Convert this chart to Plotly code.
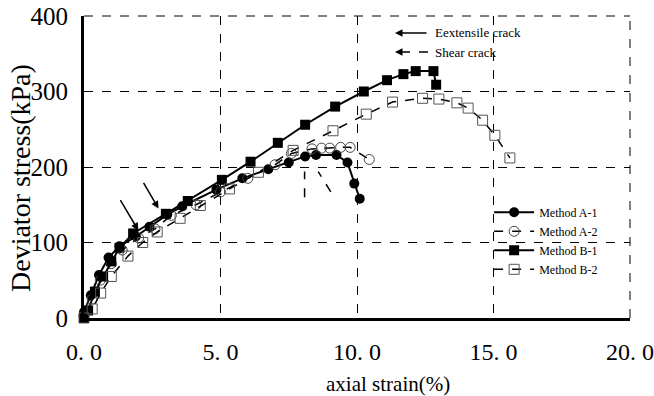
import plotly.graph_objects as go

# ---- data ----
a1_x = [0.0, 0.25, 0.55, 0.9, 1.3, 1.9, 2.4, 3.05, 3.6, 4.85, 5.8, 6.75, 7.5, 8.1, 8.5, 9.25, 9.65, 9.9, 10.1]
a1_y = [8, 30, 57, 80, 95, 108, 121, 137, 148, 170, 185, 197, 206, 214, 216, 216, 206, 178, 158]

a2_x = [0.0, 0.3, 0.6, 1.0, 1.4, 2.0, 2.6, 3.2, 4.1, 5.0, 6.0, 7.0, 7.6, 8.35, 8.7, 9.0, 9.4, 9.75, 10.45]
a2_y = [3, 25, 50, 72, 90, 106, 118, 136, 150, 167, 185, 203, 218, 224, 225, 225, 226, 226, 210]

b1_x = [0.0, 0.15, 0.4, 0.7, 1.0, 1.3, 1.8, 3.0, 3.8, 5.05, 6.1, 7.1, 8.1, 9.2, 10.25, 11.1, 11.7, 12.15, 12.8, 12.9]
b1_y = [0, 10, 35, 55, 75, 93, 112, 138, 155, 183, 207, 232, 256, 280, 300, 315, 323, 327, 327, 309]

b2_x = [0.0, 0.3, 0.61, 1.0, 1.61, 2.15, 2.68, 3.52, 4.26, 5.33, 6.39, 7.66, 9.12, 10.34, 11.3, 12.4, 13.0, 13.66, 14.07, 14.6, 15.05, 15.6]
b2_y = [0, 12, 33, 55, 82, 100, 114, 132, 149, 171, 193, 222, 248, 270, 286, 291, 290, 285, 278, 262, 242, 212]

x_ticks = [0, 5, 10, 15, 20]
x_ticklabels = ["0. 0", "5. 0", "10. 0", "15. 0", "20. 0"]
y_ticks = [0, 100, 200, 300, 400]
y_ticklabels = ["0", "100", "200", "300", "400"]

# extensile crack arrows (tail -> head) and shear crack dashed marks
ext_tail_x = [1.30, 2.15]
ext_tail_y = [158, 181]
ext_head_x = [1.99, 2.73]
ext_head_y = [116, 145]
shear_tail_x = [8.08, 9.04]
shear_tail_y = [160, 167]
shear_head_x = [8.08, 8.58]
shear_head_y = [194, 194]

SERIF = "Liberation Serif, Times New Roman, serif"

L, R, T, B = 84, 24, 16, 78
PW, PH = 654 - L - R, 396 - T - B


def px(xp):
    return (xp - L) / PW


def py(yp):
    return (396 - B - yp) / PH


fig = go.Figure()
fig.add_trace(go.Scatter(x=a1_x, y=a1_y, name="Method A-1", mode="lines+markers",
                         line=dict(color="black", width=2),
                         marker=dict(symbol="circle", size=10, color="black"), cliponaxis=False))
fig.add_trace(go.Scatter(x=a2_x, y=a2_y, name="Method A-2", mode="lines+markers",
                         line=dict(color="black", width=1.5, dash="dash"),
                         marker=dict(symbol="circle-open", size=10, color="#444", line=dict(width=1)),
                         cliponaxis=False))
fig.add_trace(go.Scatter(x=b1_x, y=b1_y, name="Method B-1", mode="lines+markers",
                         line=dict(color="black", width=2),
                         marker=dict(symbol="square", size=10, color="black"), cliponaxis=False))
fig.add_trace(go.Scatter(x=b2_x, y=b2_y, name="Method B-2", mode="lines+markers",
                         line=dict(color="black", width=1.5, dash="dash"),
                         marker=dict(symbol="square-open", size=10, color="#555", line=dict(width=1)),
                         cliponaxis=False))

# extensile crack arrows
for tx, ty, hx, hy in zip(ext_tail_x, ext_tail_y, ext_head_x, ext_head_y):
    fig.add_annotation(x=hx, y=hy, ax=tx, ay=ty, xref="x", yref="y", axref="x", ayref="y",
                       showarrow=True, arrowhead=2, arrowsize=1, arrowwidth=1.5,
                       arrowcolor="black", text="")
# shear crack dashed marks
for tx, ty, hx, hy in zip(shear_tail_x, shear_tail_y, shear_head_x, shear_head_y):
    fig.add_shape(type="line", x0=tx, y0=ty, x1=hx, y1=hy, xref="x", yref="y",
                  line=dict(color="black", width=1.5, dash="dash"))

# dashed frame on top and right
fig.add_shape(type="line", x0=0, x1=1, y0=1, y1=1, xref="paper", yref="paper",
              line=dict(color="black", width=1, dash="dash"))
fig.add_shape(type="line", x0=1, x1=1, y0=0, y1=1, xref="paper", yref="paper",
              line=dict(color="black", width=1, dash="dash"))

# crack legend (top)
fig.add_annotation(x=px(395), y=py(33), ax=33, ay=0, xref="paper", yref="paper",
                   axref="pixel", ayref="pixel",
                   showarrow=True, arrowhead=2, arrowsize=1, arrowwidth=1.5, arrowcolor="black", text="")
fig.add_annotation(x=px(433), y=py(33), xref="paper", yref="paper",
                   text="Eextensile crack", showarrow=False, xanchor="left", yanchor="middle",
                   font=dict(family=SERIF, size=13, color="black"))
fig.add_shape(type="line", x0=px(401), x1=px(430), y0=py(52), y1=py(52), xref="paper", yref="paper",
              line=dict(color="black", width=1.5, dash="dash"))
fig.add_annotation(x=px(395), y=py(52), ax=8, ay=0, xref="paper", yref="paper",
                   axref="pixel", ayref="pixel",
                   showarrow=True, arrowhead=2, arrowsize=1, arrowwidth=1.5, arrowcolor="black", text="")
fig.add_annotation(x=px(433), y=py(52), xref="paper", yref="paper",
                   text="Shear crack", showarrow=False, xanchor="left", yanchor="middle",
                   font=dict(family=SERIF, size=13, color="black"))

# axis titles
fig.add_annotation(x=px(20), y=py(178), xref="paper", yref="paper",
                   text="Deviator stress(kPa)", textangle=-90, showarrow=False,
                   xanchor="center", yanchor="middle", font=dict(family=SERIF, size=28, color="black"))
fig.add_annotation(x=px(388), y=py(384), xref="paper", yref="paper",
                   text="axial strain(%)", showarrow=False, xanchor="center", yanchor="middle",
                   font=dict(family=SERIF, size=21, color="black"))

fig.update_layout(
    width=654, height=396,
    margin=dict(l=L, r=R, t=T, b=B, autoexpand=False),
    paper_bgcolor="white", plot_bgcolor="white",
    showlegend=True,
    legend=dict(x=0.742, y=0.398, xanchor="left", yanchor="top", itemwidth=40,
                font=dict(family=SERIF, size=12, color="black"),
                bgcolor="rgba(0,0,0,0)", tracegroupgap=0),
    font=dict(family=SERIF, color="black"),
)
fig.update_xaxes(range=[0, 20], tickvals=x_ticks, ticktext=x_ticklabels, automargin=False,
                 showgrid=True, gridcolor="black", griddash="dash", gridwidth=1,
                 showline=True, linecolor="black", linewidth=3, zeroline=False,
                 ticks="", ticklabelstandoff=10, ticklabeloverflow="allow",
                 tickfont=dict(family=SERIF, size=24, color="black"))
fig.update_yaxes(range=[0, 400], tickvals=y_ticks, ticktext=y_ticklabels, automargin=False,
                 showgrid=True, gridcolor="black", griddash="dash", gridwidth=1,
                 showline=True, linecolor="black", linewidth=3, zeroline=False,
                 ticks="", ticklabelstandoff=8, ticklabeloverflow="allow",
                 tickfont=dict(family=SERIF, size=25, color="black"))

fig.write_html("out.html")
